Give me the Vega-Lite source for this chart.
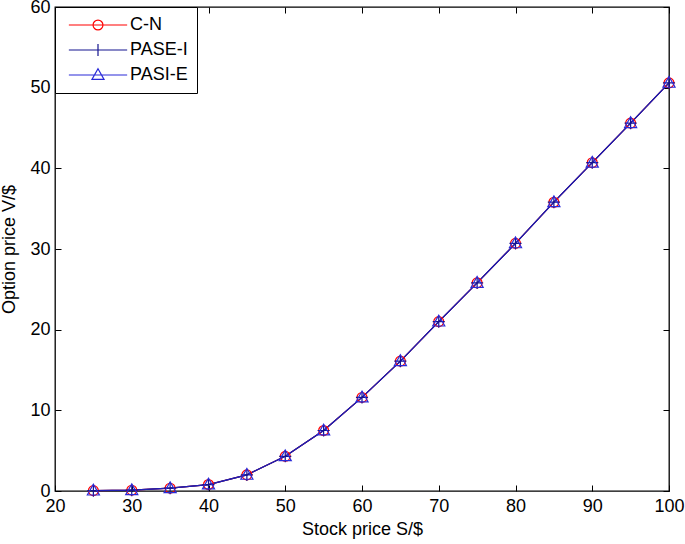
{
  "$schema": "https://vega.github.io/schema/vega-lite/v6.json",
  "width": 614,
  "height": 484,
  "autosize": {"type": "none"},
  "padding": {"left": 55, "top": 7, "right": 16, "bottom": 53},
  "background": "white",
  "config": {
    "font": "Liberation Sans",
    "view": {"stroke": "black", "strokeWidth": 1.3},
    "axis": {
      "grid": false,
      "domain": false,
      "tickColor": "black",
      "tickSize": -6,
      "tickWidth": 1,
      "labelColor": "black",
      "labelFontSize": 18,
      "titleFontSize": 18,
      "titleFontWeight": "normal",
      "titleColor": "black",
      "labelFont": "Liberation Sans",
      "titleFont": "Liberation Sans",
      "labelFlush": false,
      "labelOverlap": false
    }
  },
  "datasets": {
    "prices": [
      {"series": "C-N", "S": 25, "V": 0.05}, {"series": "C-N", "S": 30, "V": 0.1}, {"series": "C-N", "S": 35, "V": 0.35}, {"series": "C-N", "S": 40, "V": 0.8},
      {"series": "C-N", "S": 45, "V": 2.0}, {"series": "C-N", "S": 50, "V": 4.3}, {"series": "C-N", "S": 55, "V": 7.5}, {"series": "C-N", "S": 60, "V": 11.6},
      {"series": "C-N", "S": 65, "V": 16.1}, {"series": "C-N", "S": 70, "V": 21.0}, {"series": "C-N", "S": 75, "V": 25.8}, {"series": "C-N", "S": 80, "V": 30.7},
      {"series": "C-N", "S": 85, "V": 35.8}, {"series": "C-N", "S": 90, "V": 40.7}, {"series": "C-N", "S": 95, "V": 45.6}, {"series": "C-N", "S": 100, "V": 50.6},
      {"series": "PASE-I", "S": 25, "V": 0.05}, {"series": "PASE-I", "S": 30, "V": 0.1}, {"series": "PASE-I", "S": 35, "V": 0.35}, {"series": "PASE-I", "S": 40, "V": 0.8},
      {"series": "PASE-I", "S": 45, "V": 2.0}, {"series": "PASE-I", "S": 50, "V": 4.3}, {"series": "PASE-I", "S": 55, "V": 7.5}, {"series": "PASE-I", "S": 60, "V": 11.6},
      {"series": "PASE-I", "S": 65, "V": 16.1}, {"series": "PASE-I", "S": 70, "V": 21.0}, {"series": "PASE-I", "S": 75, "V": 25.8}, {"series": "PASE-I", "S": 80, "V": 30.7},
      {"series": "PASE-I", "S": 85, "V": 35.8}, {"series": "PASE-I", "S": 90, "V": 40.7}, {"series": "PASE-I", "S": 95, "V": 45.6}, {"series": "PASE-I", "S": 100, "V": 50.6},
      {"series": "PASI-E", "S": 25, "V": 0.05}, {"series": "PASI-E", "S": 30, "V": 0.1}, {"series": "PASI-E", "S": 35, "V": 0.35}, {"series": "PASI-E", "S": 40, "V": 0.8},
      {"series": "PASI-E", "S": 45, "V": 2.0}, {"series": "PASI-E", "S": 50, "V": 4.3}, {"series": "PASI-E", "S": 55, "V": 7.5}, {"series": "PASI-E", "S": 60, "V": 11.6},
      {"series": "PASI-E", "S": 65, "V": 16.1}, {"series": "PASI-E", "S": 70, "V": 21.0}, {"series": "PASI-E", "S": 75, "V": 25.8}, {"series": "PASI-E", "S": 80, "V": 30.7},
      {"series": "PASI-E", "S": 85, "V": 35.8}, {"series": "PASI-E", "S": 90, "V": 40.7}, {"series": "PASI-E", "S": 95, "V": 45.6}, {"series": "PASI-E", "S": 100, "V": 50.6}
    ]
  },
  "data": {"name": "prices"},
  "resolve": {
    "scale": {"x": "independent", "y": "independent", "color": "independent", "shape": "independent"},
    "axis": {"x": "independent", "y": "independent"}
  },
  "layer": [
    {
      "mark": {"type": "line", "strokeWidth": 1.2},
      "encoding": {
        "x": {"field": "S", "type": "quantitative", "scale": {"domain": [20, 100], "nice": false, "zero": false},
          "axis": {"orient": "bottom", "values": [20, 30, 40, 50, 60, 70, 80, 90, 100], "labelPadding": 12, "title": "Stock price S/$", "titleY": 38, "titleBaseline": "middle"}},
        "y": {"field": "V", "type": "quantitative", "scale": {"domain": [0, 60], "nice": false},
          "axis": {"orient": "left", "values": [0, 10, 20, 30, 40, 50, 60], "labelPadding": 11, "title": "Option price V/$", "titleX": -46, "titleBaseline": "middle", "titleAngle": 270}},
        "color": {"field": "series", "type": "nominal", "scale": {"domain": ["C-N", "PASE-I", "PASI-E"], "range": ["#ff0000", "#14148f", "#2020b4"]}, "legend": null},
        "order": {"field": "S", "type": "quantitative"}
      }
    },
    {
      "mark": {"type": "point", "filled": false, "strokeWidth": 1.2, "size": 121, "opacity": 1},
      "encoding": {
        "x": {"field": "S", "type": "quantitative", "scale": {"domain": [20, 100], "nice": false, "zero": false}, "axis": null},
        "y": {"field": "V", "type": "quantitative", "scale": {"domain": [0, 60], "nice": false}, "axis": null},
        "color": {"field": "series", "type": "nominal", "scale": {"domain": ["C-N", "PASE-I", "PASI-E"], "range": ["#ff0000", "#14148f", "#2a2ad8"]}, "legend": null},
        "shape": {"field": "series", "type": "nominal", "scale": {"domain": ["C-N", "PASE-I", "PASI-E"], "range": [
          "M0.9,0A0.9,0.9 0 1,1 -0.9,0A0.9,0.9 0 1,1 0.9,0Z",
          "M0,-1.1V1.1M-1.1,0H1.1",
          "M0,-1.15L1.1,0.8L-1.1,0.8Z"
        ]}, "legend": null}
      }
    },
    {
      "transform": [{"filter": "datum.S < 0"}],
      "mark": {"type": "point", "filled": false, "strokeWidth": 1.2, "size": 121, "opacity": 1},
      "encoding": {
        "color": {"field": "series", "type": "nominal", "scale": {"domain": ["C-N", "PASE-I", "PASI-E"], "range": ["#ff0000", "#14148f", "#2a2ad8"]},
          "legend": {"title": null, "orient": "top-left", "offset": 0, "strokeColor": "black", "fillColor": "white", "padding": 9, "symbolSize": 121, "symbolStrokeWidth": 1.2, "symbolOpacity": 1, "symbolOffset": 25, "labelOffset": 23, "labelFontSize": 18, "labelColor": "black", "rowPadding": 7}},
        "shape": {"field": "series", "type": "nominal", "scale": {"domain": ["C-N", "PASE-I", "PASI-E"], "range": [
          "M-5.3,0H5.3M0.9,0A0.9,0.9 0 1,1 -0.9,0A0.9,0.9 0 1,1 0.9,0",
          "M-5.3,0H5.3M0,-1.1V1.1",
          "M-5.3,0H5.3M0,-1.15L1.1,0.8L-1.1,0.8Z"
        ]},
          "legend": {"title": null, "orient": "top-left", "offset": 0, "strokeColor": "black", "fillColor": "white", "padding": 9, "symbolSize": 121, "symbolStrokeWidth": 1.2, "symbolOpacity": 1, "symbolOffset": 25, "labelOffset": 23, "labelFontSize": 18, "labelColor": "black", "rowPadding": 7}}
      }
    },
    {
      "transform": [{"filter": "datum.S < 0"}],
      "mark": {"type": "rule"},
      "encoding": {
        "x": {"field": "S", "type": "quantitative", "scale": {"domain": [20, 100], "nice": false, "zero": false},
          "axis": {"orient": "top", "values": [20, 30, 40, 50, 60, 70, 80, 90, 100], "labels": false, "title": null}},
        "y": {"field": "V", "type": "quantitative", "scale": {"domain": [0, 60], "nice": false},
          "axis": {"orient": "right", "values": [0, 10, 20, 30, 40, 50, 60], "labels": false, "title": null}}
      }
    }
  ]
}
